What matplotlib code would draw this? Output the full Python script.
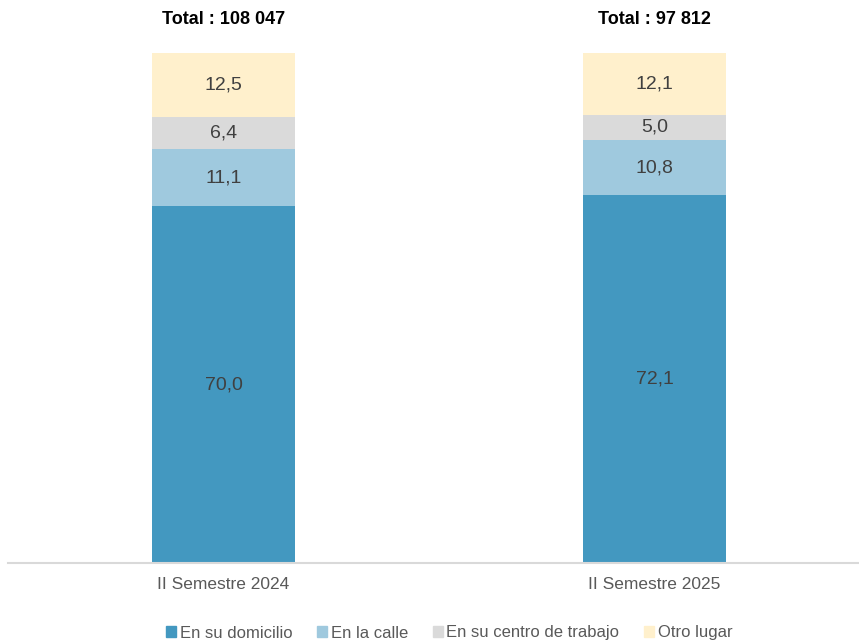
import numpy as np
import matplotlib.pyplot as plt
from matplotlib.patches import Patch

plt.rcParams['font.family'] = ['Liberation Sans Narrow', 'Liberation Sans', 'DejaVu Sans']

categories = ['II Semestre 2024', 'II Semestre 2025']
totals = ['Total : 108 047', 'Total : 97 812']
series = ['En su domicilio', 'En la calle', 'En su centro de trabajo', 'Otro lugar']
domicilio = [70.0, 72.1]
calle = [11.1, 10.8]
trabajo = [6.4, 5.0]
otro = [12.5, 12.1]
colors = ['#4398C0', '#9FC9DE', '#DADADA', '#FFF0CC']

fig = plt.figure(figsize=(8.59, 6.41), dpi=100)
ax = fig.add_axes([8/859, 1 - 563/641, 850/859, 510/641])

x = np.arange(len(categories))
bottom = np.zeros(len(categories))
for name, vals, c in zip(series, [domicilio, calle, trabajo, otro], colors):
    vals = np.array(vals)
    ax.bar(x, vals, width=0.332, bottom=bottom, color=c, label=name)
    for xi, b, v in zip(x, bottom, vals):
        ax.text(xi, b + v / 2, f'{v:.1f}'.replace('.', ','), ha='center', va='center',
                fontsize=14, color='#404040')
    bottom = bottom + vals

for xi, t, b in zip(x, totals, bottom):
    ax.text(xi, b + 6.5, t, ha='center', va='center', fontsize=13, fontweight='bold',
            color='black', clip_on=False)

ax.set_xlim(-0.5, 1.472)
ax.set_ylim(0, 100)
ax.set_yticks([])
ax.set_xticks(x)
ax.set_xticklabels(categories, fontsize=12.5, color='#595959')
ax.tick_params(axis='x', length=0, pad=10)
for s in ['top', 'right', 'left']:
    ax.spines[s].set_visible(False)
ax.spines['bottom'].set_color('#D9D9D9')
ax.spines['bottom'].set_linewidth(1.5)

handles = [Patch(color=c, label=s) for s, c in zip(series, colors)]
leg = fig.legend(handles=handles, loc='center', bbox_to_anchor=(0.523, 1 - 633/641),
                 ncol=4, frameon=False, fontsize=12, handlelength=0.6, handleheight=0.6,
                 handletextpad=0.2, columnspacing=1.5)
for t in leg.get_texts():
    t.set_color('#595959')

fig.savefig('out.png', dpi=100)
